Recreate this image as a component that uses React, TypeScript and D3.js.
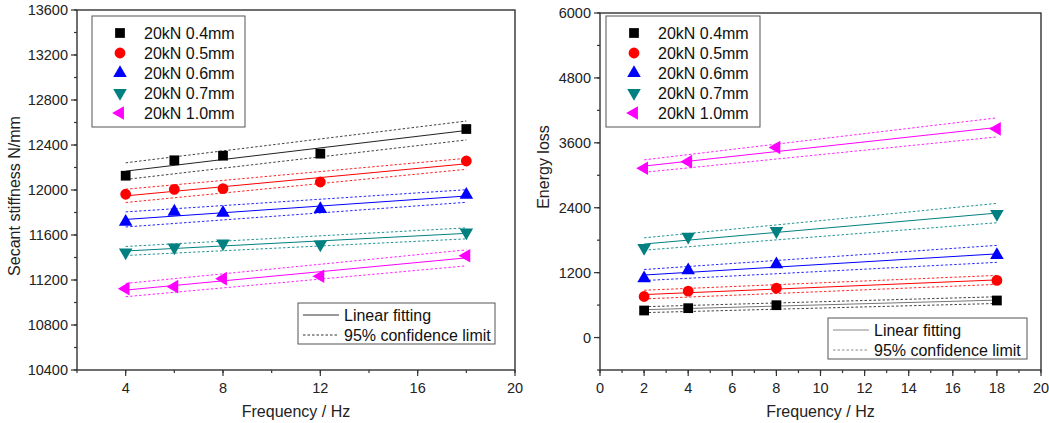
import React from "react";
import * as d3 from "d3";

// ---------- data ----------
const seriesNames = ["20kN 0.4mm", "20kN 0.5mm", "20kN 0.6mm", "20kN 0.7mm", "20kN 1.0mm"];
const seriesColors = ["#000000", "#FF0000", "#0000FF", "#008080", "#FF00FF"];
const seriesShapes = ["square", "circle", "up", "down", "left"];

const freqStiffness = [4, 6, 8, 12, 18];
const stiff04 = [12127, 12264, 12305, 12323, 12542];
const stiff05 = [11962, 12006, 12012, 12071, 12258];
const stiff06 = [11716, 11807, 11798, 11831, 11956];
const stiff07 = [11446, 11490, 11526, 11517, 11624];
const stiff10 = [11123, 11141, 11212, 11233, 11416];
const stiffBandStart = [74, 59, 67, 40, 59];
const stiffBandEnd = [84, 49, 56, 49, 71];

const freqEnergy = [2, 4, 8, 18];
const energy04 = [500, 543, 598, 685];
const energy05 = [759, 857, 913, 1056];
const energy06 = [1093, 1241, 1352, 1524];
const energy07 = [1659, 1863, 1969, 2284];
const energy10 = [3130, 3252, 3512, 3858];
const energyBandStart = [55, 80, 102, 114, 115];
const energyBandEnd = [62, 83, 157, 179, 176];

const stiffTicks = [10400, 10800, 11200, 11600, 12000, 12400, 12800, 13200, 13600];
const stiffFreqTicks = [4, 8, 12, 16, 20];
const energyTicks = [0, 1200, 2400, 3600, 4800, 6000];
const energyFreqTicks = [0, 2, 4, 6, 8, 10, 12, 14, 16, 18, 20];

const fitLegend = ["Linear fitting", "95% confidence limit"];

// ---------- helpers ----------
const FONT = "'Liberation Sans', Arial, sans-serif";
const AXIS = "#333";

function regress(xs: number[], ys: number[]) {
  const xm = d3.mean(xs)!;
  const ym = d3.mean(ys)!;
  let sxy = 0, sxx = 0;
  xs.forEach((x, i) => { sxy += (x - xm) * (ys[i] - ym); sxx += (x - xm) * (x - xm); });
  const b = sxy / sxx;
  const a = ym - b * xm;
  return (x: number) => a + b * x;
}

function Marker({ shape, x, y, color }: { shape: string; x: number; y: number; color: string }) {
  let type: any = d3.symbolSquare;
  let size = 95;
  let rot = 0;
  if (shape === "circle") { type = d3.symbolCircle; size = 92; }
  if (shape === "up") { type = d3.symbolTriangle; size = 80; }
  if (shape === "down") { type = d3.symbolTriangle; size = 80; rot = 180; }
  if (shape === "left") { type = d3.symbolTriangle; size = 80; rot = -90; }
  const p = d3.symbol().type(type).size(size)()!;
  return <path d={p} transform={`translate(${x},${y}) rotate(${rot})`} fill={color} />;
}

type PanelProps = {
  x0: number; x1: number; y0: number; y1: number;
  xDomain: [number, number]; yDomain: [number, number];
  xTicks: number[]; xMinorStep: number;
  yTicks: number[]; yMinorStep: number;
  xs: number[]; ys: number[][];
  bandStart: number[]; bandEnd: number[];
  yLabel: string; yLabelX: number; yLabelY: number;
  legendX: number; legendW: number;
  fitBox: { x: number; y: number; w: number; h: number };
  fitColor: string;
  blackFitColor: string;
};

function Panel(p: PanelProps) {
  const xs = d3.scaleLinear().domain(p.xDomain).range([p.x0, p.x1]);
  const ysc = d3.scaleLinear().domain(p.yDomain).range([p.y1, p.y0]);
  const xMinor = d3.range(p.xDomain[0], p.xDomain[1] + 1e-9, p.xMinorStep);
  const yMinor = d3.range(p.yDomain[0], p.yDomain[1] + 1e-9, p.yMinorStep).filter(v => v >= p.yDomain[0]);
  const xStart = p.xs[0];
  const xEnd = p.xs[p.xs.length - 1];
  const line = d3.line<[number, number]>().x(d => xs(d[0])).y(d => ysc(d[1]));

  return (
    <g fontFamily={FONT}>
      {/* series */}
      {p.ys.map((vals, si) => {
        const f = regress(p.xs, vals);
        const c = si === 0 ? p.blackFitColor : seriesColors[si];
        const up = line([[xStart, f(xStart) + p.bandStart[si]], [xEnd, f(xEnd) + p.bandEnd[si]]]) || "";
        const lo = line([[xStart, f(xStart) - p.bandStart[si]], [xEnd, f(xEnd) - p.bandEnd[si]]]) || "";
        const fit = line([[xStart, f(xStart)], [xEnd, f(xEnd)]]) || "";
        return (
          <g key={si}>
            <path d={up} stroke={si === 0 ? "#222" : c} strokeWidth={1} strokeDasharray="2.5,2" fill="none" opacity={0.85} />
            <path d={lo} stroke={si === 0 ? "#222" : c} strokeWidth={1} strokeDasharray="2.5,2" fill="none" opacity={0.85} />
            <path d={fit} stroke={c} strokeWidth={1} fill="none" />
            {vals.map((v, i) => (
              <Marker key={i} shape={seriesShapes[si]} x={xs(p.xs[i])} y={ysc(v)} color={seriesColors[si]} />
            ))}
          </g>
        );
      })}

      {/* frame */}
      <rect x={p.x0} y={p.y0} width={p.x1 - p.x0} height={p.y1 - p.y0} fill="none" stroke={AXIS} strokeWidth={1.4} />

      {/* x ticks */}
      {xMinor.map((v, i) => (
        <line key={"xm" + i} x1={xs(v)} x2={xs(v)} y1={p.y1} y2={p.y1 + 3} stroke={AXIS} strokeWidth={1.2} />
      ))}
      {p.xTicks.map(v => (
        <g key={"xt" + v}>
          <line x1={xs(v)} x2={xs(v)} y1={p.y1} y2={p.y1 + 6} stroke={AXIS} strokeWidth={1.2} />
          <text x={xs(v)} y={p.y1 + 18} dy="0.35em" textAnchor="middle" fontSize={14.5} fill="#222">{v}</text>
        </g>
      ))}
      {/* y ticks */}
      {yMinor.map((v, i) => (
        <line key={"ym" + i} x1={p.x0 - 3} x2={p.x0} y1={ysc(v)} y2={ysc(v)} stroke={AXIS} strokeWidth={1.2} />
      ))}
      {p.yTicks.map(v => (
        <g key={"yt" + v}>
          <line x1={p.x0 - 6} x2={p.x0} y1={ysc(v)} y2={ysc(v)} stroke={AXIS} strokeWidth={1.2} />
          <text x={p.x0 - 9} y={ysc(v)} dy="0.35em" textAnchor="end" fontSize={14.5} fill="#222">{v}</text>
        </g>
      ))}

      {/* axis titles */}
      <text x={(p.x0 + p.x1) / 2} y={411} dy="0.35em" textAnchor="middle" fontSize={16} fill="#222">Frequency / Hz</text>
      <text transform={`translate(${p.yLabelX},${p.yLabelY}) rotate(-90)`} dy="0.35em" textAnchor="middle" fontSize={16} fill="#222">{p.yLabel}</text>

      {/* series legend */}
      <rect x={p.legendX} y={16} width={p.legendW} height={111} fill="#fff" stroke="#555" strokeWidth={1} />
      {seriesNames.map((n, i) => (
        <g key={"lg" + i}>
          <Marker shape={seriesShapes[i]} x={p.legendX + 28} y={33 + i * 20} color={seriesColors[i]} />
          <text x={p.legendX + 52} y={33 + i * 20} dy="0.35em" fontSize={16} fill="#111">{n}</text>
        </g>
      ))}

      {/* fit legend */}
      <rect x={p.fitBox.x} y={p.fitBox.y} width={p.fitBox.w} height={p.fitBox.h} fill="#fff" stroke="#555" strokeWidth={1} />
      <line x1={p.fitBox.x + 5} x2={p.fitBox.x + 41} y1={p.fitBox.y + 12} y2={p.fitBox.y + 12} stroke={p.fitColor} strokeWidth={1} />
      <line x1={p.fitBox.x + 5} x2={p.fitBox.x + 41} y1={p.fitBox.y + 32} y2={p.fitBox.y + 32} stroke={p.fitColor} strokeWidth={1} strokeDasharray="2.5,2" />
      {fitLegend.map((t, i) => (
        <text key={t} x={p.fitBox.x + 46} y={p.fitBox.y + 12 + i * 20} dy="0.35em" fontSize={16} fill="#111">{t}</text>
      ))}
    </g>
  );
}

export default function App() {
  return (
    <svg width={1049} height={423} style={{ position: "absolute", left: 0, top: 0, background: "#fff" }}>
      <rect width={1049} height={423} fill="#fff" />
      <Panel
        x0={77} x1={515} y0={10} y1={370}
        xDomain={[2, 20]} yDomain={[10400, 13600]}
        xTicks={stiffFreqTicks} xMinorStep={2}
        yTicks={stiffTicks} yMinorStep={200}
        xs={freqStiffness} ys={[stiff04, stiff05, stiff06, stiff07, stiff10]}
        bandStart={stiffBandStart} bandEnd={stiffBandEnd}
        yLabel="Secant stiffness N/mm" yLabelX={14} yLabelY={196}
        legendX={92} legendW={153}
        fitBox={{ x: 298, y: 303, w: 197, h: 41 }}
        fitColor="#333"
        blackFitColor="#222"
      />
      <Panel
        x0={600} x1={1041} y0={13} y1={370}
        xDomain={[0, 20]} yDomain={[-600, 6000]}
        xTicks={energyFreqTicks} xMinorStep={1}
        yTicks={energyTicks} yMinorStep={600}
        xs={freqEnergy} ys={[energy04, energy05, energy06, energy07, energy10]}
        bandStart={energyBandStart} bandEnd={energyBandEnd}
        yLabel="Energy loss" yLabelX={543} yLabelY={167}
        legendX={606} legendW={154}
        fitBox={{ x: 828, y: 318, w: 199, h: 41 }}
        fitColor="#888"
        blackFitColor="#777"
      />
    </svg>
  );
}
